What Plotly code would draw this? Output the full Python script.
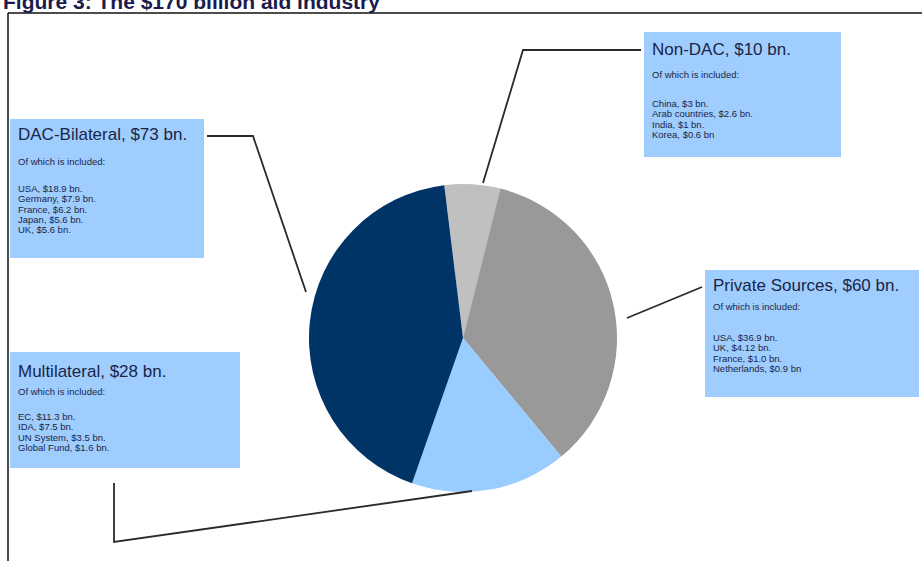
import plotly.graph_objects as go

W, H = 922, 561

# ---- data ----
categories = ["Non-DAC", "Private Sources", "Multilateral", "DAC-Bilateral"]
values = [10, 60, 28, 73]
colors = ["#c0c0c0", "#999999", "#99ccff", "#003366"]

title_text = "Figure 3: The $170 billion aid industry"
sub_heading = "Of which is included:"
details = {
    "DAC-Bilateral": ["USA, $18.9 bn.", "Germany, $7.9 bn.", "France, $6.2 bn.", "Japan, $5.6 bn.", "UK, $5.6 bn."],
    "Non-DAC": ["China, $3 bn.", "Arab countries, $2.6 bn.", "India, $1 bn.", "Korea, $0.6 bn"],
    "Private Sources": ["USA, $36.9 bn.", "UK, $4.12 bn.", "France, $1.0 bn.", "Netherlands, $0.9 bn"],
    "Multilateral": ["EC, $11.3 bn.", "IDA, $7.5 bn.", "UN System, $3.5 bn.", "Global Fund, $1.6 bn."],
}

FONT = "Liberation Sans, Arial"
TXT = "#1a2548"


def px(x):
    return x / W


def py(y):
    return 1 - y / H


# pie position (pixels)
cx, cy, r = 463, 338, 154

fig = go.Figure(
    go.Pie(
        labels=categories,
        values=values,
        marker=dict(colors=colors, line=dict(width=0)),
        sort=False,
        direction="clockwise",
        rotation=-7,
        textinfo="none",
        hoverinfo="label+value",
        showlegend=False,
        domain=dict(x=[px(cx - r), px(cx + r)], y=[py(cy + r), py(cy - r)]),
    )
)

shapes = []
annotations = []

# outer frame
shapes.append(dict(type="line", xref="paper", yref="paper", x0=px(8), x1=px(8), y0=py(13), y1=py(570),
                   line=dict(color="#111111", width=1.5)))
shapes.append(dict(type="line", xref="paper", yref="paper", x0=px(8), x1=px(930), y0=py(13), y1=py(13),
                   line=dict(color="#111111", width=1.5)))

# title (clipped at top as in reference)
annotations.append(dict(text="<b>" + title_text + "</b>", xref="paper", yref="paper", x=px(1), y=py(1),
                        xanchor="left", yanchor="middle", showarrow=False,
                        font=dict(family=FONT, size=21, color="#1b1b4d")))

# label boxes: (name, value, box x0, y0, x1, y1, title y, sub y, list first y)
boxes = [
    ("DAC-Bilateral", values[3], 10, 119, 204, 258, 135, 161, 188),
    ("Non-DAC", values[0], 644, 32, 841, 157, 50, 75, 103),
    ("Private Sources", values[1], 705, 270, 919, 397, 285, 306, 337),
    ("Multilateral", values[2], 10, 352, 240, 468, 371, 391, 416),
]

LINE_STEP = 10.5

for name, val, x0, y0, x1, y1, ty, sy, ly in boxes:
    shapes.append(dict(type="rect", xref="paper", yref="paper", x0=px(x0), x1=px(x1), y0=py(y1), y1=py(y0),
                       fillcolor="#9fcdfd", line=dict(width=0), layer="below"))
    tx = x0 + 6
    annotations.append(dict(text=f"{name}, ${val} bn.", xref="paper", yref="paper", x=px(tx), y=py(ty),
                            xanchor="left", yanchor="middle", showarrow=False,
                            font=dict(family=FONT, size=17, color=TXT)))
    annotations.append(dict(text=sub_heading, xref="paper", yref="paper", x=px(tx), y=py(sy),
                            xanchor="left", yanchor="middle", showarrow=False,
                            font=dict(family=FONT, size=9.5, color=TXT)))
    for i, line in enumerate(details[name]):
        annotations.append(dict(text=line, xref="paper", yref="paper", x=px(tx),
                                y=py(ly + i * LINE_STEP), xanchor="left", yanchor="middle",
                                showarrow=False, font=dict(family=FONT, size=9.5, color=TXT)))

# leader lines (pixel polylines)
leaders = [
    [(207, 136), (253, 136), (306, 292)],
    [(641, 50), (523, 50), (483, 183)],
    [(702, 287), (627, 318)],
    [(114, 483), (114, 542), (472, 491)],
]
for pts in leaders:
    path = "M " + " L ".join(f"{px(x)},{py(y)}" for x, y in pts)
    shapes.append(dict(type="path", xref="paper", yref="paper", path=path,
                       line=dict(color="#2a2a2a", width=1.8)))

fig.update_layout(
    width=W, height=H,
    margin=dict(l=0, r=0, t=0, b=0),
    paper_bgcolor="white",
    plot_bgcolor="white",
    shapes=shapes,
    annotations=annotations,
)

fig.write_html("out.html", config={"displayModeBar": False},
               post_script="document.body.style.margin='0px';")
